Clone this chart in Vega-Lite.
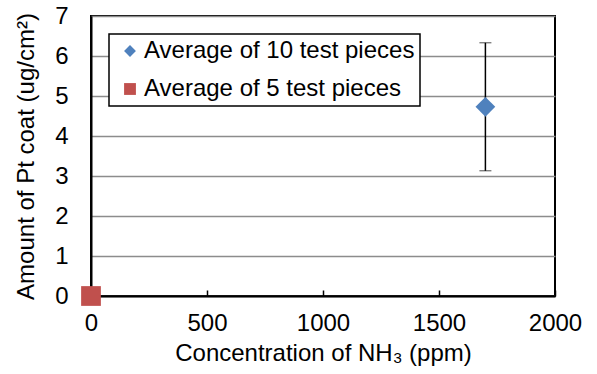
{
  "$schema": "https://vega.github.io/schema/vega-lite/v6.json",
  "autosize": {"type": "none"},
  "width": 464,
  "height": 280,
  "padding": {"left": 91, "top": 16, "right": 42, "bottom": 78},
  "background": "white",
  "config": {
    "font": "Liberation Sans",
    "view": {"stroke": "black", "strokeWidth": 2},
    "legend": {"strokeWidth": 1.5}
  },
  "data": {
    "values": [
      {"series": "Average of 10 test pieces", "conc": 1700, "amount": 4.73, "lo": 3.13, "hi": 6.33},
      {"series": "Average of 5 test pieces", "conc": 0, "amount": 0}
    ]
  },
  "layer": [
    {
      "transform": [{"filter": "isValid(datum.lo)"}],
      "mark": {"type": "errorbar", "ticks": {"size": 12, "color": "black", "strokeWidth": 1.5}, "rule": {"color": "black", "strokeWidth": 1.5}},
      "encoding": {
        "x": {
          "field": "conc", "type": "quantitative",
          "scale": {"domain": [0, 2000], "nice": false, "zero": false},
          "axis": {"values": [0, 500, 1000, 1500, 2000], "format": "d", "labelFlush": false, "grid": false, "domainColor": "black", "domainWidth": 2, "tickSize": -6, "tickColor": "black", "tickWidth": 1.5, "labelPadding": 21, "labelFontSize": 24, "labelColor": "black", "labelFont": "Liberation Sans", "title": "Concentration of NH₃ (ppm)", "titleFont": "Liberation Sans", "titleFontSize": 24, "titleFontWeight": "normal", "titleColor": "black", "titlePadding": 6}
        },
        "y": {
          "field": "lo", "type": "quantitative",
          "scale": {"domain": [0, 7], "nice": false},
          "axis": {"values": [0, 1, 2, 3, 4, 5, 6, 7], "grid": true, "gridColor": "#8c8c8c", "gridWidth": 1.5, "domainColor": "black", "domainWidth": 2, "ticks": false, "labelPadding": 23, "labelFontSize": 24, "labelColor": "black", "labelFont": "Liberation Sans", "title": "Amount of Pt coat (ug/cm²)", "titleFont": "Liberation Sans", "titleFontSize": 24, "titleFontWeight": "normal", "titleColor": "black", "titlePadding": 16}
        },
        "y2": {"field": "hi"}
      }
    },
    {
      "mark": {"type": "point", "filled": true, "opacity": 1, "size": 390, "clip": false},
      "encoding": {
        "x": {
          "field": "conc", "type": "quantitative",
          "scale": {"domain": [0, 2000], "nice": false, "zero": false},
          "axis": {"values": [0, 500, 1000, 1500, 2000], "format": "d", "labelFlush": false, "grid": false, "domainColor": "black", "domainWidth": 2, "tickSize": -6, "tickColor": "black", "tickWidth": 1.5, "labelPadding": 21, "labelFontSize": 24, "labelColor": "black", "labelFont": "Liberation Sans", "title": "Concentration of NH₃ (ppm)", "titleFont": "Liberation Sans", "titleFontSize": 24, "titleFontWeight": "normal", "titleColor": "black", "titlePadding": 6}
        },
        "y": {
          "field": "amount", "type": "quantitative",
          "scale": {"domain": [0, 7], "nice": false},
          "axis": {"values": [0, 1, 2, 3, 4, 5, 6, 7], "grid": true, "gridColor": "#8c8c8c", "gridWidth": 1.5, "domainColor": "black", "domainWidth": 2, "ticks": false, "labelPadding": 23, "labelFontSize": 24, "labelColor": "black", "labelFont": "Liberation Sans", "title": "Amount of Pt coat (ug/cm²)", "titleFont": "Liberation Sans", "titleFontSize": 24, "titleFontWeight": "normal", "titleColor": "black", "titlePadding": 16}
        },
        "color": {
          "field": "series", "type": "nominal",
          "scale": {"domain": ["Average of 10 test pieces", "Average of 5 test pieces"], "range": ["#4F81BD", "#C0504D"]},
          "legend": {"orient": "none", "legendX": 18, "legendY": 18, "title": null, "strokeColor": "black", "fillColor": "white", "padding": 5, "labelFontSize": 24, "labelFont": "Liberation Sans", "labelColor": "black", "labelLimit": 400, "symbolSize": 140, "rowPadding": 14, "symbolStrokeWidth": 0, "symbolOffset": 4, "labelOffset": 2}
        },
        "shape": {
          "field": "series", "type": "nominal",
          "scale": {"domain": ["Average of 10 test pieces", "Average of 5 test pieces"], "range": ["diamond", "square"]},
          "legend": null
        }
      }
    }
  ]
}
